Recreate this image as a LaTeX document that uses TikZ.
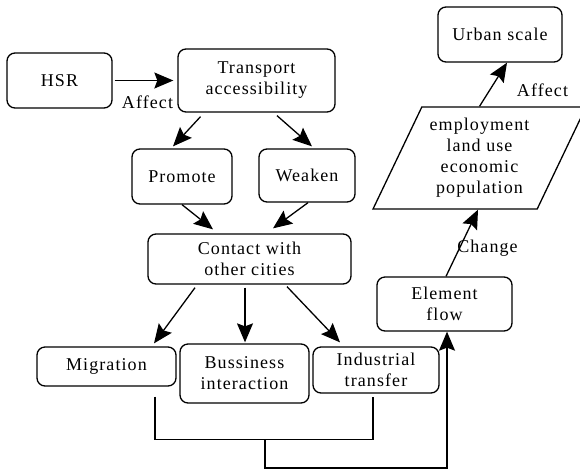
\documentclass[tikz,border=0pt]{standalone}
\usepackage{fontspec}
\setmainfont{Liberation Serif}[LetterSpace=6]
\usetikzlibrary{arrows.meta, shapes.geometric}

\begin{document}
\begin{tikzpicture}[x=1pt, y=-1pt,
  every node/.style={font=\fontsize{18}{21}\selectfont},
  box/.style={draw, rounded corners=8pt, line width=1.3pt, align=center, inner sep=0pt},
  para/.style={draw, line width=1.3pt, align=center, inner sep=0pt, trapezium,
    trapezium left angle=62, trapezium right angle=118, trapezium stretches=true},
  lbl/.style={inner sep=0pt},
  arr/.style={line width=1.3pt, -{Stealth[length=19pt, width=16pt, inset=3pt]}},
  link/.style={line width=1.3pt},
]
  \useasboundingbox (0,0) rectangle (580,472);

  % left column
  \node[box, minimum width=105pt, minimum height=55pt] (hsr) at (59.5,80.5) {HSR};
  \node[box, minimum width=157pt, minimum height=63pt] (access) at (256.5,80.5) {Transport\\accessibility};
  \node[box, minimum width=100pt, minimum height=55pt] (promote) at (182,176.5) {Promote};
  \node[box, minimum width=96pt, minimum height=53pt] (weaken) at (307,175.5) {Weaken};
  \node[box, minimum width=203pt, minimum height=50pt] (contact) at (249.5,259) {Contact with\\other cities};
  \node[box, minimum width=139pt, minimum height=39pt] (migr) at (106.5,366.5) {Migration};
  \node[box, minimum width=129pt, minimum height=59pt] (biz) at (244.5,373.5) {Bussiness\\interaction};
  \node[box, minimum width=126pt, minimum height=46pt] (indus) at (376,370) {Industrial\\transfer};

  % right column
  \node[box, minimum width=135pt, minimum height=54pt] (elem) at (444.5,304) {Element\\flow};
  \node[para, minimum width=213pt, minimum height=102pt] (factors) at (479.5,158) {employment\\land use\\economic\\population};
  \node[box, minimum width=124pt, minimum height=55pt] (urban) at (500,34.5) {Urban scale};

  \node[lbl] (affect) at (147.5,102) {Affect};
  \node[lbl] (change) at (487.5,248) {Change};
  \node[lbl] (affecturb) at (542.5,90) {Affect};

  % arrows
  \draw[arr, shorten <=2pt, shorten >=4pt] (hsr) -- (access);
  \draw[arr] ([xshift=-56pt,yshift=-4pt]access.south) -- ([xshift=-9pt,yshift=2pt]promote.north);
  \draw[arr] ([xshift=20.5pt,yshift=-3pt]access.south) -- ([xshift=5pt,yshift=2pt]weaken.north);
  \draw[arr] (promote.south) -- ([xshift=-36.5pt,yshift=4pt]contact.north);
  \draw[arr] ([xshift=1pt]weaken.south) -- ([xshift=23.5pt,yshift=5pt]contact.north);
  \draw[arr] ([xshift=-54.5pt,yshift=-3pt]contact.south) -- ([xshift=47.5pt,yshift=3pt]migr.north);
  \draw[arr] ([xshift=-4.5pt,yshift=-3pt]contact.south) -- ([xshift=0.5pt,yshift=1pt]biz.north);
  \draw[arr] ([xshift=37.5pt,yshift=-2pt]contact.south) -- ([xshift=-36pt,yshift=4pt]indus.north);

  % bracket into element flow
  \coordinate (mfoot) at ([xshift=48.5pt,yshift=-10pt]migr.south);
  \coordinate (ifoot) at ([xshift=-3pt,yshift=-3pt]indus.south);
  \coordinate (join) at (265,439);
  \draw[link] (mfoot) -- ++(0,43) -| (ifoot);
  \draw[arr] (join) -- ++(0,29) -| ([xshift=2.5pt]elem.south);

  \draw[arr] ([xshift=1.5pt]elem.north) -- ([xshift=-1.5pt]factors.south);
  \draw[arr] (factors.north) -- ([xshift=7pt]urban.south);
\end{tikzpicture}
\end{document}
